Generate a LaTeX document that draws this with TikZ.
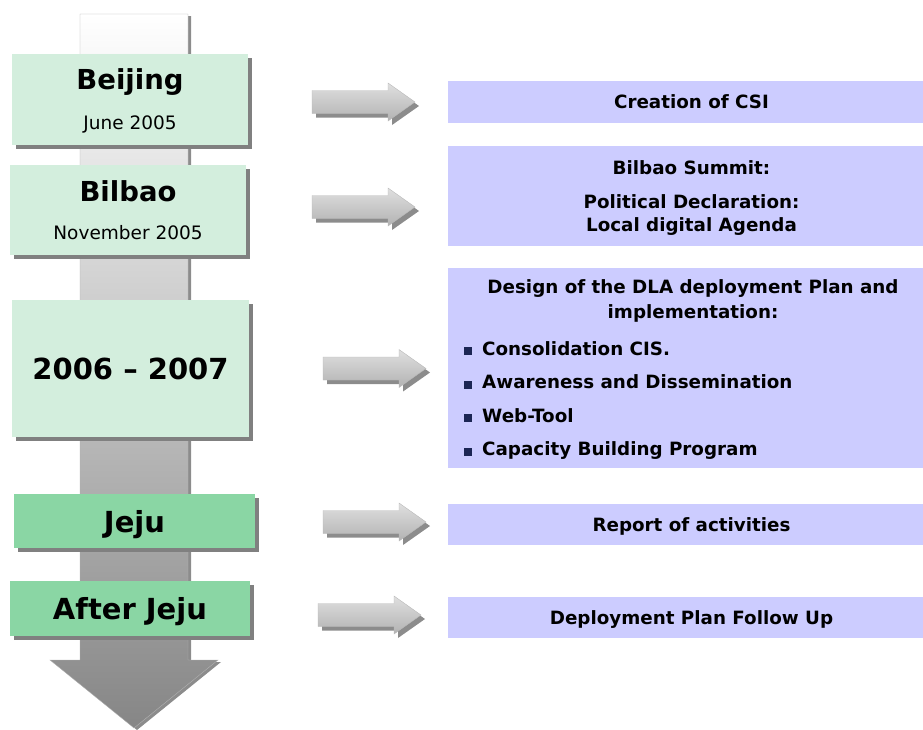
\documentclass[tikz,border=0pt]{standalone}
\usepackage{fontspec}
\setmainfont{DejaVu Sans}
\usepackage{tikz}
\usetikzlibrary{positioning, shadows}

\definecolor{mint}{HTML}{D3EEDD}
\definecolor{jade}{HTML}{8AD6A4}
\definecolor{lavender}{HTML}{CCCCFF}
\definecolor{navy}{HTML}{1C2654}

\newcommand{\placefont}{\bfseries\fontsize{27.5}{30}\selectfont}

\begin{document}
\begin{tikzpicture}[
    x=1pt, y=-1pt,
    boxshadow/.style={drop shadow={shadow xshift=4pt, shadow yshift=-4pt, fill=black!50, opacity=1}},
    yearbox/.style={rectangle, fill=mint, inner sep=0pt, align=center, text depth=0pt, boxshadow},
    jejubox/.style={yearbox, fill=jade, font=\bfseries\fontsize{29}{34}\selectfont},
    eventbox/.style={rectangle, fill=lavender, inner sep=0pt, align=center, text depth=0pt,
        minimum width=487, font=\bfseries\fontsize{18.3}{23}\selectfont},
    eventtxt/.style={inner sep=0pt, font=\bfseries\fontsize{18.3}{23}\selectfont},
    timeline/.style={draw=gray!60, top color=white, bottom color=gray!95,
        drop shadow={shadow xshift=3pt, shadow yshift=-2pt, fill=black!45, opacity=1}},
    blockarrow/.style={draw=gray!55, shading=axis, top color=gray!25, middle color=gray!5, bottom color=gray!60,
        drop shadow={shadow xshift=4pt, shadow yshift=-4pt, fill=black!45, opacity=1}}
]
    \useasboundingbox (0,0) rectangle (923,729);

    % time line
    \draw[timeline] (80,14) -- (188,14) -- (188,660) -- (218,660) -- (134,728)
        -- (50,660) -- (80,660) -- cycle;

    % stages
    \node (beijing) [yearbox, minimum width=236, minimum height=91,
        font=\fontsize{18.5}{40}\selectfont] at (130,99.5) {{\placefont Beijing}\\June 2005};
    \node (bilbao) [yearbox, minimum width=236, minimum height=90,
        font=\fontsize{18.5}{38}\selectfont] at (128,210) {{\placefont Bilbao}\\November 2005};
    \node (years) [yearbox, minimum width=237, minimum height=137,
        font=\bfseries\fontsize{29}{34}\selectfont] at (130.5,368.5) {2006 -- 2007};
    \node (jeju) [jejubox, minimum width=241, minimum height=54] at (134.5,521) {Jeju};
    \node (afterjeju) [jejubox, minimum width=240, minimum height=55] at (130,608.5) {After Jeju};

    % arrows
    \foreach \ax/\ay in {312/102, 312/207, 323/368.5, 323/522, 318/615}
        \draw[blockarrow] (\ax,\ay-11.5) -- ++(76,0) -- ++(0,-7.5) -- (\ax+103,\ay)
            -- (\ax+76,\ay+19) -- ++(0,-7.5) -- (\ax,\ay+11.5) -- cycle;

    % results
    \node (csi) [eventbox, minimum height=42] at (691.5,102) {Creation of CSI};
    \node (summit) [eventbox, minimum height=100] at (691.5,196)
        {Bilbao Summit:\\[11pt]Political Declaration:\\Local digital Agenda};
    \node (design) [eventbox, minimum height=200] at (691.5,368) {};
    \node (designtop) [eventtxt, anchor=base] at (693,293) {Design of the DLA deployment Plan and};
    \node (designsub) [eventtxt, anchor=base] at (693,318) {implementation:};
    \foreach \txt [count=\i from 0] in {Consolidation CIS., Awareness and Dissemination, Web-Tool, Capacity Building Program}
        \node (point\i) [eventtxt, anchor=base west] at (464,355+33.5*\i)
            {\textcolor{navy}{\rule{8pt}{8pt}}\hspace{10pt}\txt};
    \node (report) [eventbox, minimum height=41] at (691.5,524.5) {Report of activities};
    \node (followup) [eventbox, minimum height=41] at (691.5,617.5) {Deployment Plan Follow Up};

\end{tikzpicture}
\end{document}
